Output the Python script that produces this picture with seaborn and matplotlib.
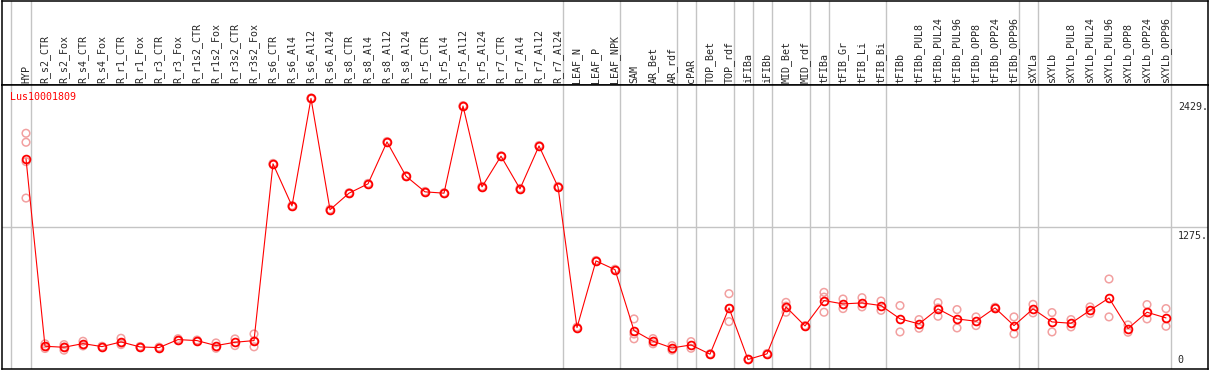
import numpy as np
import pandas as pd
import matplotlib
matplotlib.use('Agg')
import matplotlib.pyplot as plt
import matplotlib.transforms as mtransforms
import seaborn as sns

gene = 'Lus10001809'

categories = [
    'HYP', 'R_s2_CTR', 'R_s2_Fox', 'R_s4_CTR', 'R_s4_Fox', 'R_r1_CTR', 'R_r1_Fox',
    'R_r3_CTR', 'R_r3_Fox', 'R_r1s2_CTR', 'R_r1s2_Fox', 'R_r3s2_CTR', 'R_r3s2_Fox',
    'R_s6_CTR', 'R_s6_Al4', 'R_s6_Al12', 'R_s6_Al24', 'R_s8_CTR', 'R_s8_Al4',
    'R_s8_Al12', 'R_s8_Al24', 'R_r5_CTR', 'R_r5_Al4', 'R_r5_Al12', 'R_r5_Al24',
    'R_r7_CTR', 'R_r7_Al4', 'R_r7_Al12', 'R_r7_Al24', 'LEAF_N', 'LEAF_P', 'LEAF_NPK',
    'SAM', 'AR_Bet', 'AR_rdf', 'cPAR', 'TOP_Bet', 'TOP_rdf', 'iFIBa', 'iFIBb',
    'MID_Bet', 'MID_rdf', 'tFIBa', 'tFIB_Gr', 'tFIB_Li', 'tFIB_Bi', 'tFIBb',
    'tFIBb_PUL8', 'tFIBb_PUL24', 'tFIBb_PUL96', 'tFIBb_OPP8', 'tFIBb_OPP24',
    'tFIBb_OPP96', 'sXYLa', 'sXYLb', 'sXYLb_PUL8', 'sXYLb_PUL24', 'sXYLb_PUL96',
    'sXYLb_OPP8', 'sXYLb_OPP24', 'sXYLb_OPP96',
]

mean_values = [
    1886, 200, 191, 224, 197, 239, 194, 188, 260, 251, 206, 236, 251,
    1841, 1462, 2429, 1428, 1577, 1661, 2038, 1730, 1589, 1577, 2361, 1634,
    1910, 1616, 2002, 1634, 368, 968, 889,
    341, 245, 185, 212, 129, 545, 81, 132, 554, 383,
    611, 581, 590, 566, 447, 401, 536, 446, 425, 545, 386,
    536, 419, 407, 523, 634, 359, 506, 455,
]

replicates = [
    [2116, 2035, 1861, 1533],
    [222, 180, 198], [215, 165, 193], [245, 203], [200, 194], [272, 215, 230],
    [198, 190], [192, 184], [268, 252], [256, 246], [230, 182], [266, 206],
    [311, 195, 247],
    [1845, 1837], [1466, 1458], [2433, 2425], [1432, 1424], [1581, 1573],
    [1665, 1657], [2042, 2034], [1734, 1726], [1593, 1585], [1581, 1573],
    [2365, 2357], [1638, 1630], [1914, 1906], [1620, 1612], [2006, 1998],
    [1638, 1630], [372, 364], [972, 964], [893, 885],
    [446, 267, 310], [269, 222], [206, 165], [242, 182], [132, 126],
    [673, 422, 540], [84, 78], [135, 129], [595, 506, 561], [386, 380],
    [685, 506, 642], [625, 539], [637, 554], [607, 523], [566, 329],
    [440, 362], [593, 470, 545], [530, 365], [464, 386], [551, 539],
    [464, 311], [577, 500], [503, 329], [440, 374], [554, 494], [805, 464],
    [392, 326], [575, 446], [539, 380],
]

y_ticks = [0, 1275, 2429]
group_breaks = [-0.8, 0.25, 28.25, 31.25, 34.25, 35.25, 37.25, 38.25, 39.25,
                41.25, 42.25, 45.25, 52.25, 53.25, 60.25]

means_df = pd.DataFrame({'pos': np.arange(len(categories)), 'value': mean_values})
rep_df = pd.DataFrame(
    [(i, v) for i, reps in enumerate(replicates) for v in reps],
    columns=['pos', 'value'],
)

sns.set_style('white')
plt.rcParams['font.family'] = ['DejaVu Sans Mono']

W, H = 1209, 370
fig = plt.figure(figsize=(W / 100, H / 100), dpi=100)
left, right = 1.5 / W, 1208 / W
xlim = ((1.5 - 26) / 19, (1208 - 26) / 19)

ax_head = fig.add_axes([left, (H - 85) / H, right - left, 84.5 / H])
ax = fig.add_axes([left, 1.5 / H, right - left, 283.5 / H])

grid_c = '#c4c4c4'
for a in (ax_head, ax):
    a.set_xlim(*xlim)
    a.set_xticks([])
    a.set_yticks([])
    for s in a.spines.values():
        s.set_color('black')
        s.set_linewidth(1.1)
    for b in group_breaks:
        a.axvline(b, color=grid_c, lw=1.0, zorder=0)

ax_head.set_ylim(0, 1)
head_tr = mtransforms.blended_transform_factory(ax_head.transData, ax_head.transAxes)
for i, lab in enumerate(categories):
    ax_head.text(i, 0.025, lab, rotation=90, ha='center', va='bottom',
                 fontsize=7.2, transform=head_tr)

ax.set_ylim(0, 2550)
ax.axhline(1275, color=grid_c, lw=1.0, zorder=0)

sns.scatterplot(data=rep_df, x='pos', y='value', ax=ax, marker='o', s=30,
                facecolors='none', edgecolor='#f2a0a0', linewidth=1.1,
                legend=False, zorder=2)
sns.lineplot(data=means_df, x='pos', y='value', ax=ax, color='red', lw=0.8,
             marker='o', markersize=5.6, markerfacecolor='none',
             markeredgecolor='red', markeredgewidth=1.3, sort=False,
             errorbar=None, zorder=3)
ax.set_xlabel('')
ax.set_ylabel('')

tick_tr = mtransforms.blended_transform_factory(ax.transAxes, ax.transData)
for t in y_ticks:
    lab = '0' if t == 0 else f'{t}.'
    ax.text(0.975, t + (30 if t == 0 else -35), lab, ha='left',
            va='bottom' if t == 0 else 'top', fontsize=7.2, transform=tick_tr)

ax.text(0.007, 0.975, gene, color='red', ha='left', va='top', fontsize=7.2,
        transform=ax.transAxes)

fig.savefig('out.png', dpi=100)
